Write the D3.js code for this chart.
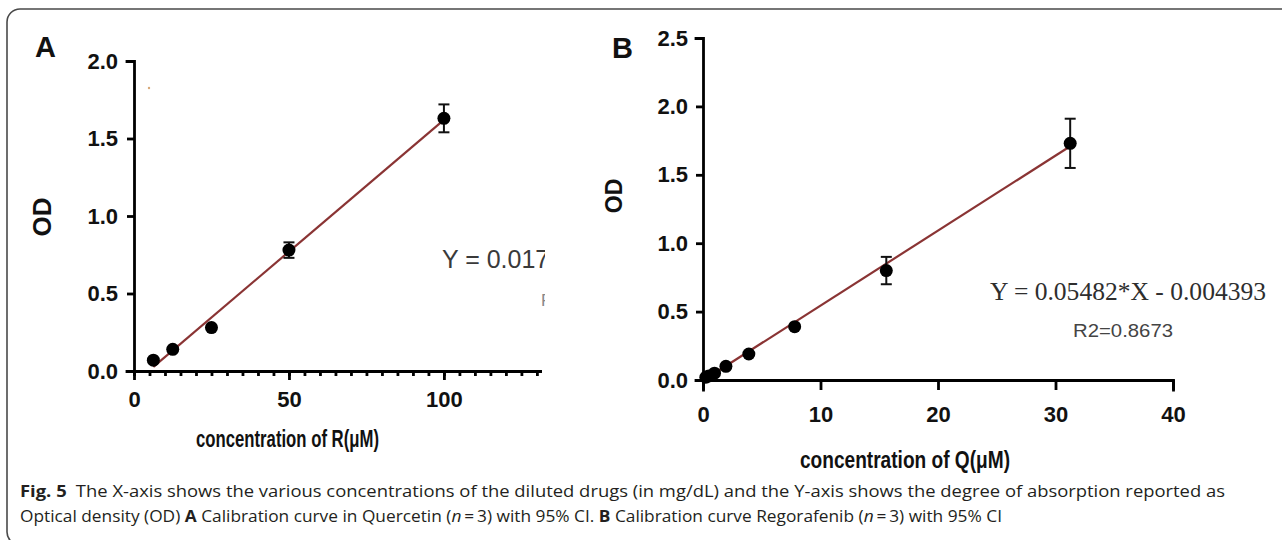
<!doctype html>
<html>
<head>
<meta http-equiv="Content-type" content="text/html; charset=utf-8"/>
<script src="https://d3js.org/d3.v7.min.js"></script>
<style>
  body { margin: 0; background: #fff; }
  svg { display: block; }
  .axis path, .axis line { stroke: #000; stroke-width: 2.8px; }
  .axis text { font-family: "Liberation Sans", Arial, sans-serif; font-weight: bold; font-size: 22px; fill: #111; }
  .title { font-family: "Liberation Sans", Arial, sans-serif; font-weight: bold; fill: #111; }
  .caption { font-family: "Open Sans", "Noto Sans", sans-serif; font-size: 16.5px; fill: #231f20; }
</style>
</head>
<body>
<svg id="fig" width="1282" height="540"></svg>
<script>
// panel A - Quercetin / R
var concA = [6.25, 12.5, 25, 50, 100];
var odA = [0.07, 0.14, 0.28, 0.78, 1.63];
var errA = [0.01, 0.01, 0.01, 0.05, 0.09];
var slopeA = 0.0170, interceptA = -0.080;
var yTicksA = [0, 0.5, 1.0, 1.5, 2.0];
var xMajorA = [0, 50, 100];

// panel B - Regorafenib / Q
var concB = [0.24, 0.49, 0.98, 1.95, 3.9, 7.8, 15.6, 31.25];
var odB = [0.02, 0.03, 0.05, 0.10, 0.19, 0.39, 0.80, 1.73];
var errB = [0.01, 0.01, 0.01, 0.01, 0.01, 0.01, 0.10, 0.18];
var slopeB = 0.05482, interceptB = -0.004393;
var yTicksB = [0, 0.5, 1.0, 1.5, 2.0, 2.5];
var xTicksB = [0, 10, 20, 30, 40];

var svg = d3.select("#fig");

// frame
svg.append("rect")
    .attr("x", 7).attr("y", 9)
    .attr("width", 1300).attr("height", 536)
    .attr("rx", 13)
    .attr("fill", "none").attr("stroke", "#4a4a4a").attr("stroke-width", 1.6);

svg.append("defs").append("clipPath").attr("id", "clipA")
    .append("rect").attr("x", 0).attr("y", 0).attr("width", 545).attr("height", 540);

var lineColor = "#8a3434";

function panel(o) {
    var g = svg.append("g");
    var x = d3.scaleLinear().domain(o.xDomain).range(o.xRange);
    var y = d3.scaleLinear().domain(o.yDomain).range(o.yRange);

    // y axis
    g.append("g").attr("class", "axis")
        .attr("transform", "translate(" + o.xRange[0] + ",0)")
        .call(d3.axisLeft(y).tickValues(o.yTicks).tickSize(7).tickPadding(o.yPad)
            .tickFormat(d3.format(".1f")));

    // x axis
    if (o.xMinor) {
        g.append("g").attr("class", "axis")
            .attr("transform", "translate(0," + o.yRange[0] + ")")
            .call(d3.axisBottom(x).tickValues(o.xMinor).tickSize(5).tickSizeOuter(0).tickFormat(""));
    }
    g.append("g").attr("class", "axis")
        .attr("transform", "translate(0," + o.yRange[0] + ")")
        .call(d3.axisBottom(x).tickValues(o.xTicks).tickSize(o.xTickLen).tickSizeOuter(o.xMinor ? 0 : o.xTickLen)
            .tickPadding(o.xPad).tickFormat(d3.format("d")));

    g.selectAll(".axis .domain").attr("stroke-linecap", "square");

    // fit line
    var x0 = d3.min(o.conc), x1 = d3.max(o.conc);
    g.append("line")
        .attr("x1", x(x0)).attr("y1", y(o.slope * x0 + o.intercept))
        .attr("x2", x(x1)).attr("y2", y(o.slope * x1 + o.intercept))
        .attr("stroke", lineColor).attr("stroke-width", 2.2);

    var pts = o.conc.map(function (c, i) { return {x: c, y: o.od[i], e: o.err[i]}; });

    // error bars
    var eb = g.selectAll(".eb").data(pts).enter().append("g").attr("class", "eb")
        .attr("stroke", "#111").attr("stroke-width", 2);
    eb.append("line")
        .attr("x1", function (d) { return x(d.x); }).attr("x2", function (d) { return x(d.x); })
        .attr("y1", function (d) { return y(d.y + d.e); }).attr("y2", function (d) { return y(d.y - d.e); });
    eb.append("line")
        .attr("x1", function (d) { return x(d.x) - 5.5; }).attr("x2", function (d) { return x(d.x) + 5.5; })
        .attr("y1", function (d) { return y(d.y + d.e); }).attr("y2", function (d) { return y(d.y + d.e); });
    eb.append("line")
        .attr("x1", function (d) { return x(d.x) - 5.5; }).attr("x2", function (d) { return x(d.x) + 5.5; })
        .attr("y1", function (d) { return y(d.y - d.e); }).attr("y2", function (d) { return y(d.y - d.e); });

    // points
    g.selectAll(".pt").data(pts).enter().append("circle").attr("class", "pt")
        .attr("cx", function (d) { return x(d.x); })
        .attr("cy", function (d) { return y(d.y); })
        .attr("r", 6.5).attr("fill", "#000");

    // panel letter
    g.append("text").attr("class", "title")
        .attr("x", o.letterX).attr("y", o.letterY)
        .attr("font-size", 29).text(o.letter);

    // OD label
    g.append("text").attr("class", "title")
        .attr("transform", "translate(" + o.odX + "," + o.odY + ") rotate(-90)")
        .attr("text-anchor", "middle").attr("dy", "0.36em")
        .attr("font-size", o.odSize).text("OD");

    // x title
    g.append("text").attr("class", "title")
        .attr("x", o.titleX).attr("y", o.titleY)
        .attr("font-size", 23)
        .attr("textLength", o.titleLen).attr("lengthAdjust", "spacingAndGlyphs")
        .text(o.title);
    return {g: g, x: x, y: y};
}

var A = panel({
    xDomain: [0, 131], xRange: [134, 540],
    yDomain: [0, 2], yRange: [371, 61],
    yTicks: yTicksA, yPad: 9,
    xTicks: xMajorA, xMinor: d3.range(0, 131, 5), xTickLen: 9, xPad: 11,
    conc: concA, od: odA, err: errA, slope: slopeA, intercept: interceptA,
    letter: "A", letterX: 35, letterY: 57,
    odX: 42, odY: 217, odSize: 26,
    title: "concentration of R(\u03bcM)", titleX: 196, titleY: 447, titleLen: 183
});

var B = panel({
    xDomain: [0, 40], xRange: [703, 1173],
    yDomain: [0, 2.5], yRange: [380, 38],
    yTicks: yTicksB, yPad: 8,
    xTicks: xTicksB, xMinor: null, xTickLen: 10, xPad: 16,
    conc: concB, od: odB, err: errB, slope: slopeB, intercept: interceptB,
    letter: "B", letterX: 612, letterY: 58,
    odX: 614, odY: 196, odSize: 23,
    title: "concentration of Q(\u03bcM)", titleX: 800, titleY: 468, titleLen: 210
});

// equation A (cut off by the image edge)
var eqA = svg.append("g").attr("clip-path", "url(#clipA)");
eqA.append("text")
    .attr("x", 442).attr("y", 268)
    .attr("font-family", "Liberation Sans, Arial, sans-serif")
    .attr("font-size", 25).attr("fill", "#3a3a3a")
    .text("Y = 0.0178");
eqA.append("text")
    .attr("x", 541).attr("y", 306)
    .attr("font-family", "Liberation Sans, Arial, sans-serif")
    .attr("font-size", 17).attr("fill", "#888")
    .text("R2");

// stray mark in panel A
svg.append("circle").attr("cx", 149).attr("cy", 88).attr("r", 1.2).attr("fill", "#d8a878");

// equation B
svg.append("text")
    .attr("x", 990).attr("y", 300)
    .attr("font-family", "Liberation Serif, Times New Roman, serif")
    .attr("font-size", 26).attr("fill", "#2e2e2e")
    .attr("textLength", 276).attr("lengthAdjust", "spacingAndGlyphs")
    .text("Y = 0.05482*X - 0.004393");
svg.append("text")
    .attr("x", 1073).attr("y", 337)
    .attr("font-family", "Liberation Sans, Arial, sans-serif")
    .attr("font-size", 19).attr("fill", "#444")
    .attr("textLength", 100).attr("lengthAdjust", "spacingAndGlyphs")
    .text("R2=0.8673");

// caption
var cap1 = svg.append("text").attr("class", "caption")
    .attr("x", 20).attr("y", 497)
    .attr("textLength", 1205).attr("lengthAdjust", "spacingAndGlyphs");
cap1.append("tspan").attr("font-weight", "bold").text("Fig. 5");
cap1.append("tspan").text("\u2002The X-axis shows the various concentrations of the diluted drugs (in mg/dL) and the Y-axis shows the degree of absorption reported as");

var cap2 = svg.append("text").attr("class", "caption")
    .attr("x", 20).attr("y", 522)
    .attr("textLength", 982).attr("lengthAdjust", "spacingAndGlyphs");
cap2.append("tspan").text("Optical density (OD) ");
cap2.append("tspan").attr("font-weight", "bold").text("A");
cap2.append("tspan").text(" Calibration curve in Quercetin (");
cap2.append("tspan").attr("font-style", "italic").text("n");
cap2.append("tspan").text("\u2009=\u20093) with 95% CI. ");
cap2.append("tspan").attr("font-weight", "bold").text("B");
cap2.append("tspan").text(" Calibration curve Regorafenib (");
cap2.append("tspan").attr("font-style", "italic").text("n");
cap2.append("tspan").text("\u2009=\u20093) with 95% CI");
</script>
</body>
</html>
